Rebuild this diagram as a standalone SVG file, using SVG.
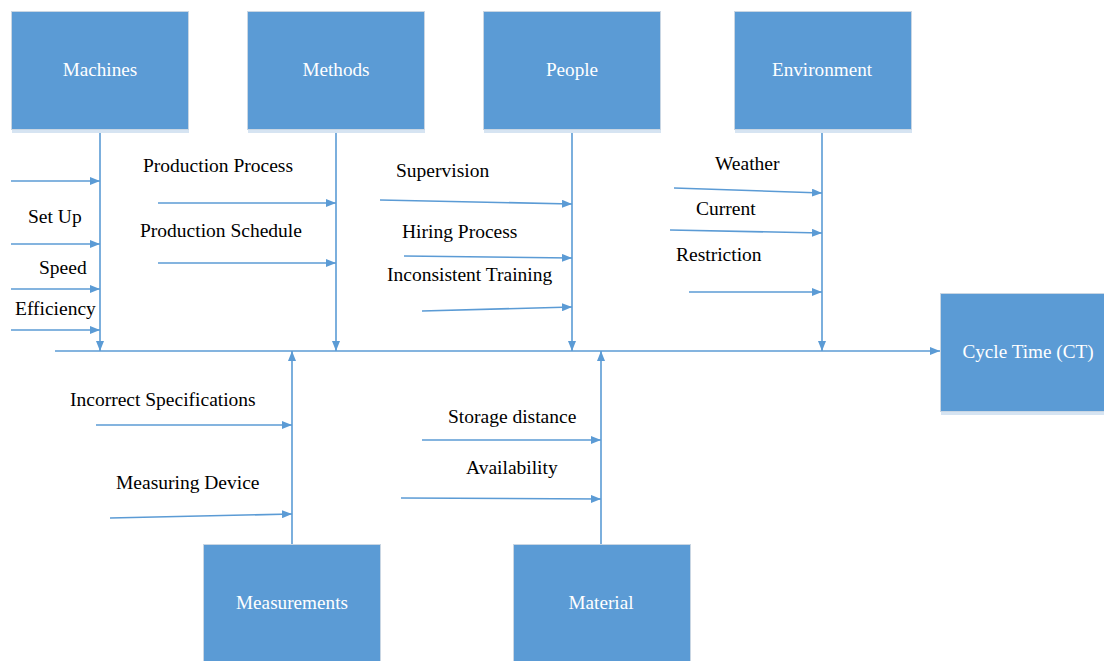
<svg xmlns="http://www.w3.org/2000/svg" width="1104" height="661" viewBox="0 0 1104 661">
<style>
.box{fill:#5B9BD5;stroke:#C9D6E3;stroke-width:1}
.shadow{fill:#D6E4F2}
.bt{font-family:"Liberation Serif","Times New Roman",serif;font-size:19.2px;fill:#FFFFFF;text-anchor:middle}
.lt{font-family:"Liberation Serif","Times New Roman",serif;font-size:19.5px;fill:#000000}
.ln{stroke:#5B9BD5;stroke-width:1.6;fill:none;marker-end:url(#ah)}
</style>
<defs>
<marker id="ah" viewBox="0 0 10 8" refX="10" refY="4" markerWidth="10" markerHeight="8" markerUnits="userSpaceOnUse" orient="auto">
<path d="M0,0 L10,4 L0,8 Z" fill="#5B9BD5"/>
</marker>
</defs>
<rect width="1104" height="661" fill="#FFFFFF"/>
<g id="connectors">
<line class="ln" x1="55" y1="351" x2="940" y2="351"/>
<line class="ln" x1="100" y1="130" x2="100" y2="351"/>
<line class="ln" x1="336" y1="130" x2="336" y2="351"/>
<line class="ln" x1="572" y1="130" x2="572" y2="351"/>
<line class="ln" x1="822" y1="130" x2="822" y2="351"/>
<line class="ln" x1="292" y1="544" x2="292" y2="351"/>
<line class="ln" x1="601" y1="544" x2="601" y2="351"/>
<line class="ln" x1="11" y1="181" x2="100" y2="181"/>
<line class="ln" x1="11" y1="244" x2="100" y2="244"/>
<line class="ln" x1="11" y1="289" x2="100" y2="289"/>
<line class="ln" x1="11" y1="330" x2="100" y2="330"/>
<line class="ln" x1="158" y1="203" x2="336" y2="203"/>
<line class="ln" x1="158" y1="263" x2="336" y2="263"/>
<line class="ln" x1="380" y1="200" x2="572" y2="204"/>
<line class="ln" x1="404" y1="256" x2="572" y2="258"/>
<line class="ln" x1="422" y1="311" x2="572" y2="307"/>
<line class="ln" x1="674" y1="188" x2="822" y2="193"/>
<line class="ln" x1="670" y1="230" x2="822" y2="233"/>
<line class="ln" x1="689" y1="292" x2="822" y2="292"/>
<line class="ln" x1="96" y1="425" x2="292" y2="425"/>
<line class="ln" x1="110" y1="518" x2="292" y2="514"/>
<line class="ln" x1="422" y1="440" x2="601" y2="440"/>
<line class="ln" x1="401" y1="498" x2="601" y2="499"/>
</g>
<g id="machines"><rect class="shadow" x="12" y="130" width="177" height="3"/><rect class="box" x="11.5" y="11.5" width="177" height="118"/><text class="bt" x="100" y="76">Machines</text></g>
<g id="methods"><rect class="shadow" x="248" y="130" width="177" height="3"/><rect class="box" x="247.5" y="11.5" width="177" height="118"/><text class="bt" x="336" y="76">Methods</text></g>
<g id="people"><rect class="shadow" x="484" y="130" width="177" height="3"/><rect class="box" x="483.5" y="11.5" width="177" height="118"/><text class="bt" x="572" y="76">People</text></g>
<g id="environment"><rect class="shadow" x="735" y="130" width="177" height="3"/><rect class="box" x="734.5" y="11.5" width="177" height="118"/><text class="bt" x="822" y="76">Environment</text></g>
<g id="cycle-time"><rect class="shadow" x="941" y="412" width="163" height="3"/><rect class="box" x="940.5" y="293.5" width="170" height="118"/><text class="bt" x="1028" y="358">Cycle Time (CT)</text></g>
<g id="measurements"><rect class="box" x="203.5" y="544.5" width="177" height="120"/><text class="bt" x="292" y="609">Measurements</text></g>
<g id="material"><rect class="box" x="513.5" y="544.5" width="177" height="120"/><text class="bt" x="601" y="609">Material</text></g>
<g id="labels">
<text class="lt" x="28" y="223">Set Up</text>
<text class="lt" x="39" y="274">Speed</text>
<text class="lt" x="15" y="315">Efficiency</text>
<text class="lt" x="143" y="172">Production Process</text>
<text class="lt" x="140" y="237">Production Schedule</text>
<text class="lt" x="396" y="177">Supervision</text>
<text class="lt" x="402" y="238">Hiring Process</text>
<text class="lt" x="387" y="281">Inconsistent Training</text>
<text class="lt" x="715" y="170">Weather</text>
<text class="lt" x="696" y="215">Current</text>
<text class="lt" x="676" y="261">Restriction</text>
<text class="lt" x="70" y="406">Incorrect Specifications</text>
<text class="lt" x="116" y="489">Measuring Device</text>
<text class="lt" x="448" y="423">Storage distance</text>
<text class="lt" x="466" y="474">Availability</text>
</g>
</svg>
